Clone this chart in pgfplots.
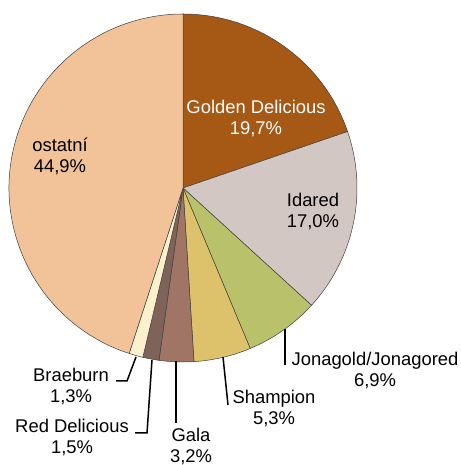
\documentclass[border=0pt]{standalone}
\usepackage{pgfplots}
\pgfplotsset{compat=1.18}
\usepackage{fontspec}
\setmainfont{Liberation Sans}

\definecolor{golden}{HTML}{A65815}
\definecolor{idared}{HTML}{D3C7C3}
\definecolor{jonagold}{HTML}{B9C16A}
\definecolor{shampion}{HTML}{DEC26B}
\definecolor{gala}{HTML}{A07565}
\definecolor{reddel}{HTML}{7F6358}
\definecolor{braeburn}{HTML}{FDF0CC}
\definecolor{ostatni}{HTML}{F2C298}

\tikzset{lbl/.style={font=\fontsize{18.4}{21}\selectfont, align=center, inner sep=0pt}}

% running total of the shares drawn so far
\newcommand\cum{0}
% one wedge: share in %, colour (clockwise from the top)
\newcommand\slice[2]{%
  \pgfmathsetmacro\sa{90-\cum/99.8*360}%
  \pgfmathsetmacro\newcum{\cum+#1}%
  \xdef\cum{\newcum}%
  \pgfmathsetmacro\sb{90-\cum/99.8*360}%
  \pgfmathsetmacro\px{174*cos(\sa)}%
  \pgfmathsetmacro\py{174*sin(\sa)}%
  \edef\temp{\noexpand\addplot[fill=#2, draw=black!75, line width=0.5pt]
    coordinates {(0,0) (\px,\py)}
    arc[start angle=\sa, end angle=\sb, radius=174pt] -- cycle;}%
  \temp
}

\begin{document}
\begin{tikzpicture}
\begin{axis}[
    x=1pt, y=1pt,
    xmin=-183, xmax=277,
    ymin=-277, ymax=188,
    hide axis,
    clip=false,
  ]
  \coordinate (bl) at (axis cs:-183,-277);
  \coordinate (tr) at (axis cs:277,188);

  \slice{19.7}{golden}
  \slice{17.0}{idared}
  \slice{6.9}{jonagold}
  \slice{5.3}{shampion}
  \slice{3.2}{gala}
  \slice{1.5}{reddel}
  \slice{1.3}{braeburn}
  \slice{44.9}{ostatni}

  % leader lines
  \draw[line width=1.5pt] (axis cs:102,-141) -- (axis cs:102,-177);
  \draw[line width=1.5pt] (axis cs:40,-169) -- (axis cs:45,-217);
  \draw[line width=1.5pt] (axis cs:-7,-173) -- (axis cs:-7,-235);
  \draw[line width=1.5pt] (axis cs:-31,-172) -- (axis cs:-36,-245) -- (axis cs:-48,-245);
  \draw[line width=1.5pt] (axis cs:-47,-169) -- (axis cs:-56,-193) -- (axis cs:-67,-193);

  % labels
  \node[lbl, text=white] at (axis cs:73,69) {Golden Delicious\\19,7\%};
  \node[lbl] at (axis cs:130,-24) {Idared\\17,0\%};
  \node[lbl] at (axis cs:-123,32) {ostatní\\44,9\%};
  \node[lbl] at (axis cs:192,-183) {Jonagold/Jonagored\\6,9\%};
  \node[lbl] at (axis cs:91,-221) {Shampion\\5,3\%};
  \node[lbl] at (axis cs:8,-259) {Gala\\3,2\%};
  \node[lbl] at (axis cs:-111,-250) {Red Delicious\\1,5\%};
  \node[lbl] at (axis cs:-112,-199) {Braeburn\\1,3\%};
\end{axis}
\pgfresetboundingbox
\path (bl) rectangle (tr);
\end{tikzpicture}
\end{document}
